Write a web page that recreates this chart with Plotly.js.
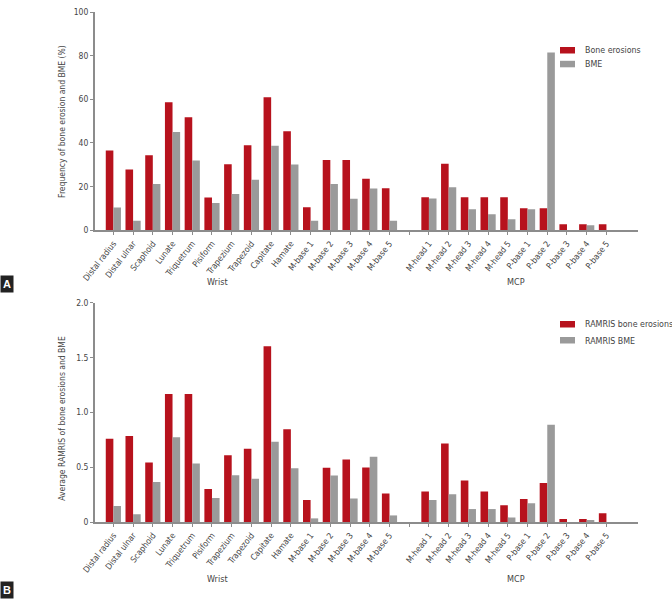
<!DOCTYPE html>
<html>
<head>
<meta charset="utf-8">
<script src="https://cdn.plot.ly/plotly-3.0.1.min.js"></script>
<style>
  body { margin: 0; background: #fff; }
  #myDiv { width: 672px; height: 600px; }
</style>
</head>
<body>
<div id="myDiv"></div>
<script>
//---------------------- DATA ---------------------------
var sites = ['Distal radius', 'Distal ulnar', 'Scaphoid', 'Lunate', 'Triquetrum', 'Pisiform',
  'Trapezium', 'Trapezoid', 'Capitate', 'Hamate', 'M-base 1', 'M-base 2', 'M-base 3', 'M-base 4',
  'M-base 5', ' ', 'M-head 1', 'M-head 2', 'M-head 3', 'M-head 4', 'M-head 5',
  'P-base 1', 'P-base 2', 'P-base 3', 'P-base 4', 'P-base 5'];

// panel A: frequency (%)
var erosionFreq = [36.6, 27.9, 34.4, 58.6, 51.8, 15.0, 30.2, 39.0, 60.9, 45.4, 10.5, 32.2, 32.2, 23.6,
  19.2, null, 15.1, 30.5, 15.1, 15.1, 15.1, 10.1, 10.1, 2.8, 2.8, 2.8];
var bmeFreq = [10.4, 4.4, 21.2, 45.0, 32.0, 12.5, 16.6, 23.2, 38.7, 30.1, 4.4, 21.2, 14.5, 19.1,
  4.4, null, 14.6, 19.7, 9.6, 7.3, 5.0, 9.6, 81.5, 0, 2.3, 0];

// panel B: average RAMRIS
var erosionRamris = [0.76, 0.785, 0.543, 1.167, 1.167, 0.30, 0.609, 0.667, 1.603, 0.845, 0.20, 0.494,
  0.57, 0.497, 0.26, null, 0.279, 0.715, 0.379, 0.279, 0.152, 0.209, 0.355, 0.027, 0.027, 0.079];
var bmeRamris = [0.145, 0.07, 0.364, 0.773, 0.533, 0.218, 0.427, 0.394, 0.733, 0.49, 0.033, 0.424,
  0.215, 0.594, 0.06, null, 0.2, 0.252, 0.118, 0.118, 0.042, 0.17, 0.888, 0, 0.018, 0];

var ticksA = [0, 20, 40, 60, 80, 100];
var ticksB = [0, 0.5, 1, 1.5, 2];
var ticksBText = ['0', '0.5', '1.0', '1.5', '2.0'];

var namesA = ['Bone erosions', 'BME'];
var namesB = ['RAMRIS bone erosions', 'RAMRIS BME'];

//---------------------- STYLE ---------------------------
var red = '#b7121d';
var grey = '#9a9a9a';
var axisGrey = '#8c8c8c';
var txt = '#444444';
var font = 'Liberation Sans Narrow, DejaVu Sans Condensed, Arial Narrow, sans-serif';

function xaxisStyle(anchor){
  return {
    type: 'category',
    categoryorder: 'array',
    categoryarray: sites,
    range: [-0.93, 26.6],
    domain: [0.1414, 0.9494],
    anchor: anchor,
    showline: true,
    linecolor: axisGrey,
    linewidth: 2,
    ticks: 'outside',
    ticklen: 3,
    tickwidth: 1,
    tickcolor: axisGrey,
    tickangle: -52,
    tickfont: {family: font, size: 8.5, color: txt},
    showgrid: false,
    zeroline: false,
    fixedrange: true
  };
}

function yaxisStyle(anchor, dom, rng, vals, text){
  return {
    domain: dom,
    range: rng,
    anchor: anchor,
    tickmode: 'array',
    tickvals: vals,
    ticktext: text,
    showline: true,
    linecolor: axisGrey,
    linewidth: 2,
    ticks: 'outside',
    ticklen: 3,
    tickwidth: 1,
    tickcolor: axisGrey,
    tickfont: {family: font, size: 8.5, color: txt},
    showgrid: false,
    zeroline: false,
    fixedrange: true
  };
}

var data = [{
    x: sites, y: erosionFreq, name: namesA[0], type: 'bar',
    xaxis: 'x', yaxis: 'y', marker: {color: red}
  },{
    x: sites, y: bmeFreq, name: namesA[1], type: 'bar',
    xaxis: 'x', yaxis: 'y', marker: {color: grey}
  },{
    x: sites, y: erosionRamris, name: namesB[0], type: 'bar',
    xaxis: 'x2', yaxis: 'y2', marker: {color: red}
  },{
    x: sites, y: bmeRamris, name: namesB[1], type: 'bar',
    xaxis: 'x2', yaxis: 'y2', marker: {color: grey}
  }];

// hand-made legends (wide flat swatches like the original)
function legendItems(names, topPx, step){
  var shapes = [], notes = [];
  var cols = [red, grey];
  names.forEach(function(n, i){
    var cy = topPx + i * step;
    shapes.push({type: 'rect', xref: 'paper', yref: 'paper', line: {width: 0}, fillcolor: cols[i],
      x0: 560 / 672, x1: 575 / 672, y0: (600 - cy - 3) / 600, y1: (600 - cy + 3.5) / 600});
    notes.push({text: n, xref: 'paper', yref: 'paper', x: 583 / 672, y: (600 - cy) / 600,
      xanchor: 'left', yanchor: 'middle', showarrow: false,
      font: {family: font, size: 8.8, color: txt}});
  });
  return {shapes: shapes, notes: notes};
}
var legA = legendItems(namesA, 50.5, 13.8);
var legB = legendItems(namesB, 324.5, 16);

function label(text, x, y, extra){
  return Object.assign({text: text, xref: 'paper', yref: 'paper', x: x, y: y,
    xanchor: 'center', yanchor: 'middle', showarrow: false,
    font: {family: font, size: 9, color: txt}}, extra || {});
}

var layout = {
  width: 672,
  height: 600,
  margin: {l: 0, r: 0, t: 0, b: 0},
  paper_bgcolor: '#ffffff',
  plot_bgcolor: '#ffffff',
  barmode: 'group',
  bargap: 0.23,
  bargroupgap: 0,
  showlegend: false,
  font: {family: font, color: txt},
  xaxis: xaxisStyle('y'),
  yaxis: yaxisStyle('x', [0.6162, 0.98], [0, 100], ticksA, ticksA.map(String)),
  xaxis2: xaxisStyle('y2'),
  yaxis2: yaxisStyle('x2', [0.13, 0.4955], [0, 2], ticksB, ticksBText),
  shapes: legA.shapes.concat(legB.shapes),
  annotations: [
    label('Frequency of bone erosion and BME (%)', 0.0933, 0.798, {textangle: -90,
      font: {family: font, size: 8.5, color: txt}}),
    label('Average RAMRIS of bone erosions and BME', 0.0923, 0.302, {textangle: -90,
      font: {family: font, size: 8.5, color: txt}}),
    label('Wrist', 0.323, 0.5305),
    label('MCP', 0.768, 0.5305),
    label('Wrist', 0.323, 0.035),
    label('MCP', 0.768, 0.035),
    // panel letters
    label('<b>A</b>', 0, 0.526, {xanchor: 'left', bgcolor: '#222222', borderpad: 2,
      font: {family: 'Liberation Sans, sans-serif', size: 11, color: '#ffffff'}}),
    label('<b>B</b>', 0, 0.001, {xanchor: 'left', yanchor: 'bottom', bgcolor: '#222222', borderpad: 2,
      font: {family: 'Liberation Sans, sans-serif', size: 11, color: '#ffffff'}})
  ].concat(legA.notes, legB.notes)
};

Plotly.newPlot('myDiv', data, layout, {staticPlot: true});
</script>
</body>
</html>
